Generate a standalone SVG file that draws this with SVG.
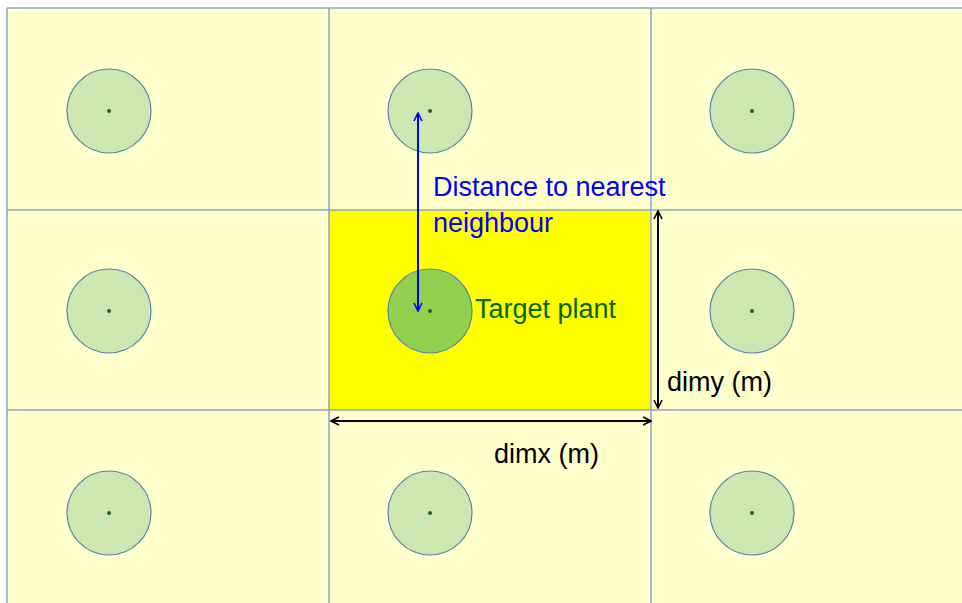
<svg xmlns="http://www.w3.org/2000/svg" width="962" height="603" viewBox="0 0 962 603">
<defs>
<style>
.cell{fill:#ffffcc;stroke:none}
.grid{stroke:#8aa6c4;stroke-width:1.5;fill:none}
.plant{fill:#cce8b0;stroke:#5b80b0;stroke-width:1.2}
.target{fill:#92d050;stroke:#5b80b0;stroke-width:1.2}
.dot{fill:#1f5f3f}
.lbl{font-family:"Liberation Sans",Arial,sans-serif;font-size:27px}
</style>
<marker id="ab" viewBox="0 0 10 10" refX="9" refY="5" markerWidth="10" markerHeight="10" markerUnits="userSpaceOnUse" orient="auto-start-reverse"><path d="M1,1 L9,5 L1,9" fill="none" stroke="#0000ff" stroke-width="1.6"/></marker>
<marker id="ak" viewBox="0 0 10 10" refX="9" refY="5" markerWidth="10" markerHeight="10" markerUnits="userSpaceOnUse" orient="auto-start-reverse"><path d="M1,1 L9,5 L1,9" fill="none" stroke="#000" stroke-width="1.6"/></marker>
</defs>
<rect x="0" y="0" width="962" height="603" fill="#ffffff"/>
<rect class="cell" x="7" y="8" width="955" height="595"/>
<rect x="329" y="210" width="322" height="200" fill="#ffff00"/>
<g id="grid" class="grid">
<line x1="7" y1="8" x2="962" y2="8"/>
<line x1="7" y1="8" x2="7" y2="603"/>
<line x1="329" y1="8" x2="329" y2="603"/>
<line x1="651" y1="8" x2="651" y2="603"/>
<line x1="7" y1="210" x2="962" y2="210"/>
<line x1="7" y1="410" x2="962" y2="410"/>
</g>
<g id="p11"><circle class="plant" cx="109" cy="111" r="42"/><circle class="dot" cx="109" cy="111" r="2"/></g>
<g id="p12"><circle class="plant" cx="430" cy="111" r="42"/><circle class="dot" cx="430" cy="111" r="2"/></g>
<g id="p13"><circle class="plant" cx="752" cy="111" r="42"/><circle class="dot" cx="752" cy="111" r="2"/></g>
<g id="p21"><circle class="plant" cx="109" cy="311" r="42"/><circle class="dot" cx="109" cy="311" r="2"/></g>
<g id="target"><circle class="target" cx="430" cy="311" r="42"/><circle class="dot" cx="430" cy="311" r="2"/></g>
<g id="p23"><circle class="plant" cx="752" cy="311" r="42"/><circle class="dot" cx="752" cy="311" r="2"/></g>
<g id="p31"><circle class="plant" cx="109" cy="513" r="42"/><circle class="dot" cx="109" cy="513" r="2"/></g>
<g id="p32"><circle class="plant" cx="430" cy="513" r="42"/><circle class="dot" cx="430" cy="513" r="2"/></g>
<g id="p33"><circle class="plant" cx="752" cy="513" r="42"/><circle class="dot" cx="752" cy="513" r="2"/></g>
<g id="connectors">
<line x1="418" y1="113" x2="418" y2="311" stroke="#0000ff" stroke-width="2" marker-start="url(#ab)" marker-end="url(#ab)"/>
<line x1="658" y1="211" x2="658" y2="408" stroke="#000" stroke-width="2" marker-start="url(#ak)" marker-end="url(#ak)"/>
<line x1="331" y1="421" x2="651" y2="421" stroke="#000" stroke-width="2" marker-start="url(#ak)" marker-end="url(#ak)"/>
</g>
<g id="labels">
<text class="lbl" x="433" y="196" fill="#0000ff">Distance to nearest</text>
<text class="lbl" x="433" y="232" fill="#0000ff">neighbour</text>
<text class="lbl" x="475" y="318" fill="#006600">Target plant</text>
<text class="lbl" x="667" y="391" fill="#000">dimy (m)</text>
<text class="lbl" x="494" y="463" fill="#000">dimx (m)</text>
</g>
</svg>
